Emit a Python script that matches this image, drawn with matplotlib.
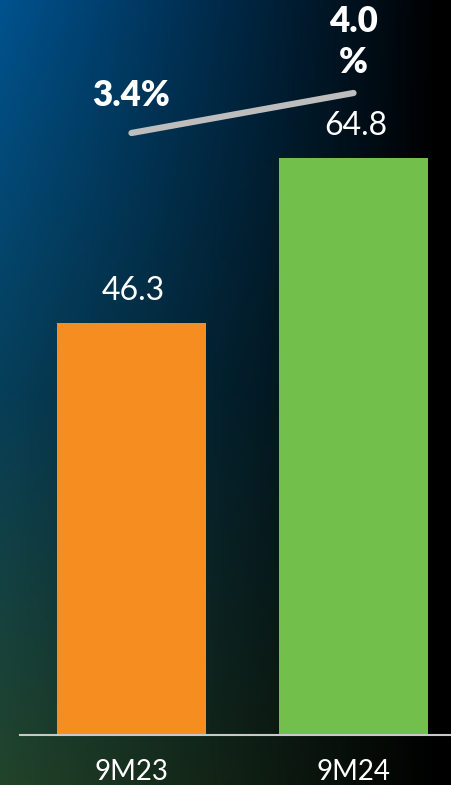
import numpy as np
import matplotlib.pyplot as plt

# data
periods = ["9M23", "9M24"]
values = [46.3, 64.8]
margin_pct = [3.4, 4.0]
value_labels = ["46.3", "64.8"]
margin_labels = ["3.4%", "4.0\n%"]
bar_colors = ["#F68D20", "#72BF4C"]

W, H = 451, 785
fig = plt.figure(figsize=(W / 100, H / 100), dpi=100)

# background gradient: blue top-left, green bottom-left, black to the right
bg = fig.add_axes([0, 0, 1, 1])
yy, xx = np.mgrid[0:1:200j, 0:1:120j]
top = np.array([0, 82, 142]) / 255
mid = np.array([6, 62, 88]) / 255
bot = np.array([34, 68, 42]) / 255
t = yy[..., None]
base = np.where(t < 0.5, top * (1 - 2 * t) + mid * 2 * t,
                mid * (2 - 2 * t) + bot * (2 * t - 1))
fade = np.clip(1 - xx / 0.97, 0, 1) ** 0.95
img = base * fade[..., None]
bg.imshow(img, aspect="auto", extent=[0, 1, 0, 1], origin="upper")
bg.axis("off")

# main axes: spans from x=20px to right edge, axis line at y=735px
ax = fig.add_axes([20 / W, 1 - 735 / H, 1 - 20 / W, 735 / H])
ax.patch.set_alpha(0)
x = np.arange(len(periods))
ax.bar(x, values, width=0.671, color=bar_colors)
ax.set_xlim(-0.502, 1.439)
ax.set_ylim(0, 82.6)
for s in ["top", "right", "left"]:
    ax.spines[s].set_visible(False)
ax.spines["bottom"].set_color("#C8C8C8")
ax.spines["bottom"].set_linewidth(1.5)
ax.set_yticks([])
ax.set_xticks(x)
ax.set_xticklabels(periods, color="white", fontsize=20, family="Lato")
ax.tick_params(axis="x", length=0, pad=17)

for xi, v, lab in zip(x, values, value_labels):
    ax.annotate(lab, (xi, v), xytext=(2, 32), textcoords="offset pixels",
                ha="center", va="center", color="white", fontsize=23, family="Lato")

# margin line on a secondary scale
ax2 = ax.twinx()
ax2.set_ylim(-5.63, 5.395)
ax2.axis("off")
ax2.plot(x, margin_pct, color="#BDBDBD", lw=4.5, solid_capstyle="round")
offsets = [38, 51]
for xi, v, lab, off in zip(x, margin_pct, margin_labels, offsets):
    ax2.annotate(lab, (xi, v), xytext=(0, off), textcoords="offset pixels",
                 ha="center", va="center", color="white", fontsize=25,
                 fontweight="heavy", family="Lato", linespacing=1.3)

fig.savefig("out.png", dpi=100)
